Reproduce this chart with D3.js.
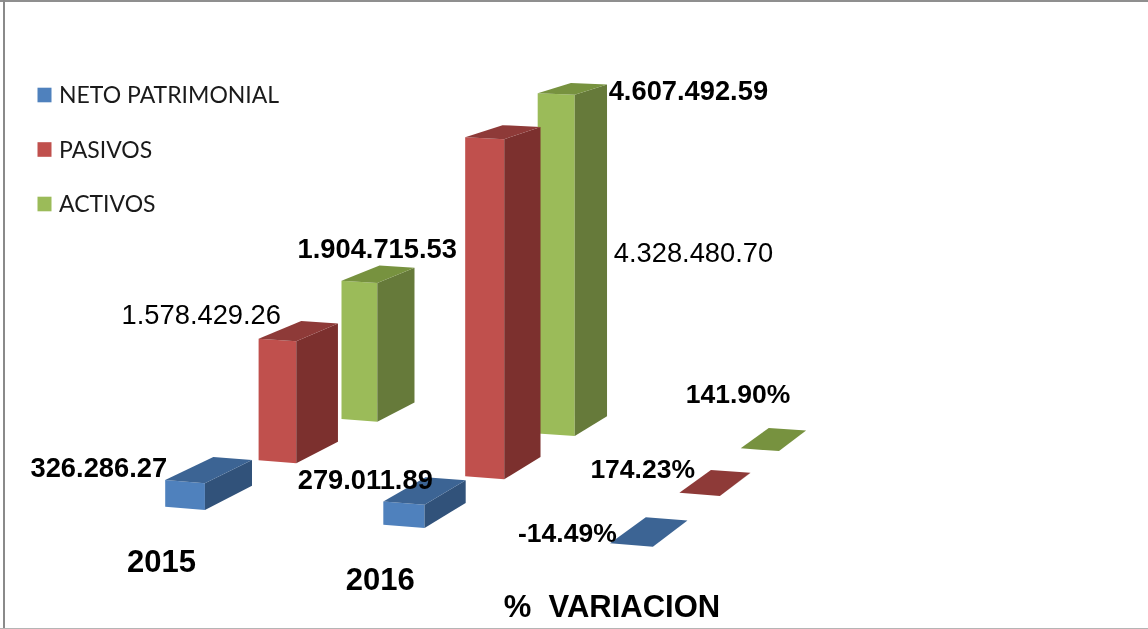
<!DOCTYPE html>
<html>
<head>
<meta charset="utf-8">
<script src="https://cdn.jsdelivr.net/npm/d3@7/dist/d3.min.js"></script>
<style>
html,body{margin:0;padding:0;background:#fff;overflow:hidden}
svg{display:block;filter:blur(0.45px)}
text{white-space:pre}
</style>
</head>
<body>
<svg id="chart" width="1148" height="629"></svg>
<script>
// ---- data ----
const categories = ["2015", "2016", "% VARIACION"];
const seriesNames = ["NETO PATRIMONIAL", "PASIVOS", "ACTIVOS"];
const netoPatrimonial = [326286.27, 279011.89, -14.49];
const pasivos = [1578429.26, 4328480.70, 174.23];
const activos = [1904715.53, 4607492.59, 141.90];
const seriesValues = [netoPatrimonial, pasivos, activos];

// ---- styles ----
const faceColors = [
  {front:"#4f81bd", side:"#31527a", top:"#3c6494"},
  {front:"#c0504d", side:"#7c302e", top:"#8e3a38"},
  {front:"#9bbb59", side:"#667a3a", top:"#77923f"}
];
const labelBold = [[true, true, true], [false, false, true], [true, true, true]];
// label offsets from the projected top-left corner of each bar's front face
const labelOffset = [
  [[-134.7,-3.5], [-85.6,-12.5], [-92,-1.5]],
  [[-137,-14.5], [148.6,125], [-89,-15]],
  [[-44,-23], [71,7], [-55,-45]]
];
const categoryOffset = [[-3.7,65], [-3,65], [2,73.7]];

// ---- projection of the 3D ground plane ----
const uScale = d3.scaleLinear().domain([0, 2]).range([0, 1]);
const vScale = d3.scaleLinear().domain([0, 2]).range([0, 1]);
const corners = {p00:[165.2,506.7], p10:[610,543.3], p01:[341.5,419], p11:[740.7,448.3]};
const barWidth = 0.185, barDepth = 0.5;
const heightScale = d3.scaleLinear().domain([0, 1000000]).range([0, 81.8]);

const {p00, p10, p01, p11} = corners;
const dx1 = p10[0]-p11[0], dx2 = p01[0]-p11[0], sx = p00[0]-p10[0]+p11[0]-p01[0];
const dy1 = p10[1]-p11[1], dy2 = p01[1]-p11[1], sy = p00[1]-p10[1]+p11[1]-p01[1];
const den = dx1*dy2 - dx2*dy1;
const g = (sx*dy2 - dx2*sy)/den, h = (dx1*sy - sx*dy1)/den;

function project(u, v, value) {
  const a = uScale(u), b = vScale(v), w = 1 + g*a + h*b;
  const x = (p00[0] + (p10[0]-p00[0]+g*p10[0])*a + (p01[0]-p00[0]+h*p01[0])*b)/w;
  const y = (p00[1] + (p10[1]-p00[1]+g*p10[1])*a + (p01[1]-p00[1]+h*p01[1])*b)/w;
  return [x, y - heightScale(Math.max(value, 0))/w];
}

const svg = d3.select("#chart");
const poly = d3.line().curve(d3.curveLinearClosed);

// frame
const frame = svg.append("g");
frame.append("rect").attr("x",0).attr("y",0).attr("width",1148).attr("height",2).attr("fill","#8f8f8f");
frame.append("rect").attr("x",3).attr("y",0).attr("width",2).attr("height",629).attr("fill","#8a8a8a");
frame.append("rect").attr("x",0).attr("y",628).attr("width",1148).attr("height",1).attr("fill","#b5b5b5");

// bars, farthest series first
const bars = svg.append("g");
d3.range(seriesValues.length - 1, -1, -1).forEach(s => {
  seriesValues[s].forEach((val, c) => {
    const u0 = c, u1 = c + barWidth, v0 = s, v1 = s + barDepth;
    const col = faceColors[s];
    const g0 = bars.append("g");
    g0.append("path").attr("fill", col.front).attr("d", poly([
      project(u0,v0,val), project(u1,v0,val), project(u1,v0,0), project(u0,v0,0)]));
    g0.append("path").attr("fill", col.side).attr("d", poly([
      project(u1,v0,val), project(u1,v1,val), project(u1,v1,0), project(u1,v0,0)]));
    g0.append("path").attr("fill", col.top).attr("d", poly([
      project(u0,v0,val), project(u1,v0,val), project(u1,v1,val), project(u0,v1,val)]));
  });
});

// value labels
const fmt = d3.formatLocale({decimal:".", thousands:".", grouping:[3], currency:["",""]}).format(",.2f");
const pct = d3.formatLocale({decimal:".", thousands:"", grouping:[3], currency:["",""], minus:"-"}).format(".2f");
const labels = svg.append("g").attr("font-family","'Liberation Sans', Arial, sans-serif").attr("fill","#000");
seriesValues.forEach((vals, s) => vals.forEach((val, c) => {
  const isPct = c === 2;
  const [tx, ty] = project(c, s, val);
  const [ox, oy] = labelOffset[s][c];
  labels.append("text")
    .attr("x", tx + ox).attr("y", ty + oy)
    .attr("font-size", isPct ? 26.5 : 27.3)
    .attr("font-weight", labelBold[s][c] ? "bold" : "normal")
    .text(isPct ? pct(val) + "%" : fmt(val));
}));

// category labels
const catG = svg.append("g").attr("font-family","'Liberation Sans', Arial, sans-serif")
  .attr("font-weight","bold").attr("text-anchor","middle").attr("fill","#000");
categories.forEach((cat, c) => {
  const [bx, by] = project(c, 0, 0);
  catG.append("text")
    .attr("x", bx + categoryOffset[c][0]).attr("y", by + categoryOffset[c][1])
    .attr("font-size", 31)
    .text(c === 2 ? cat.replace(" ", "  ") : cat);
});

// legend
const legendY = d3.scalePoint().domain(seriesNames).range([95, 204]);
const legend = svg.append("g").attr("font-family","Lato, 'Noto Sans', sans-serif").attr("fill","#1a1a1a");
seriesNames.forEach((name, s) => {
  const y = legendY(name);
  legend.append("rect").attr("x",37.5).attr("y",y-7.3).attr("width",14).attr("height",14.6).attr("fill",faceColors[s].front);
  legend.append("text").attr("x",59).attr("y",y+8).attr("font-size",23).text(name);
});
</script>
</body>
</html>
